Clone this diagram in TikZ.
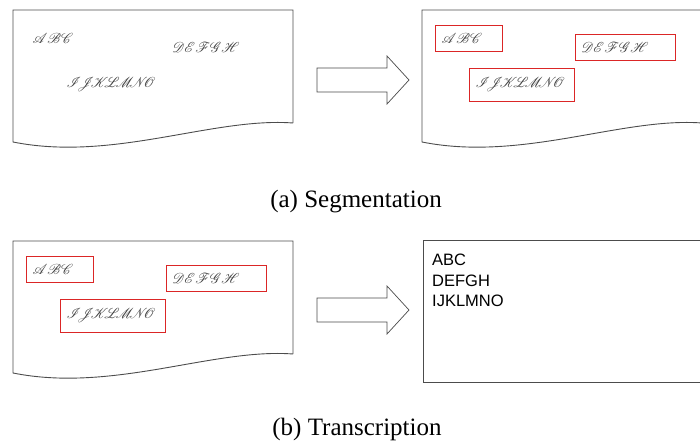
\documentclass[tikz,border=0pt]{standalone}
\usepackage{fontspec}
\usepackage{mathrsfs}
\setmainfont{Liberation Serif}
\setsansfont{Liberation Sans}
\usetikzlibrary{positioning}
\definecolor{pagegray}{rgb}{0.3,0.3,0.3}
\definecolor{boxred}{rgb}{0.86,0.15,0.15}
\makeatletter
\newcommand\handwrite[2][0mu]{$\@tfor\hw@c:=#2\do{\mathscr{\hw@c}\mkern#1}$}
\makeatother
\tikzset{
  page/.style={draw=pagegray, line width=0.9pt},
  word/.style={inner xsep=6pt, inner ysep=0pt, align=left, text=black!75,
    font=\fontsize{14}{14}\selectfont},
  wordbox/.style={word, draw=boxred, line width=0.9pt},
  bigarrow/.style={draw=pagegray, line width=0.7pt, fill=white},
}

\begin{document}
\begin{tikzpicture}[x=1pt,y=-1pt]
  \useasboundingbox (0,0) rectangle (700,441);
  \clip (0,0) rectangle (700,441);
  % the three sheets, with or without boxes round the words
  \foreach \dx/\dy/\sty in {13/10/word, 422/10/wordbox, 13/241/wordbox}{
    \begin{scope}[shift={(\dx,\dy)}]
      \draw[page] (280,113) -- (280,0) -- (0,0) -- (0,132)
        .. controls (100,152) and (200,107) .. (280,113);
      \node[\sty, minimum width=67pt, minimum height=26pt, text width=55pt]
        (abc-\dx-\dy) at (47,28) {\handwrite{ABC}};
      \node[\sty, minimum width=100pt, minimum height=26pt, text width=88pt,
        font=\fontsize{15}{15}\selectfont]
        (defgh-\dx-\dy) at (203,37) {\handwrite{DEFGH}};
      \node[\sty, minimum width=105pt, minimum height=33pt, text width=93pt]
        (ijklmno-\dx-\dy) at (100,74.5) {\handwrite[-5mu]{IJKLMNO}};
    \end{scope}
  }
  % the two arrows
  \foreach \ay in {80,310}
  \draw[bigarrow] (317,\ay-12) -- (387,\ay-12) -- (387,\ay-24) -- (409,\ay)
    -- (387,\ay+24) -- (387,\ay+12) -- (317,\ay+12) -- cycle;
  % the transcribed text
  \draw[page] (423,240) rectangle (720,382);
  \node[anchor=north west, align=left, inner sep=0pt,
    font=\sffamily\fontsize{16.5}{20.5}\selectfont] (transcript) at (432,254)
    {ABC\\DEFGH\\IJKLMNO};
  % captions
  \node[anchor=base, font=\fontsize{25}{29}\selectfont] (capseg) at (356,207)
    {(a) Segmentation};
  \node[anchor=base, font=\fontsize{25}{29}\selectfont] (captrans) at (357,435)
    {(b) Transcription};
\end{tikzpicture}
\end{document}
